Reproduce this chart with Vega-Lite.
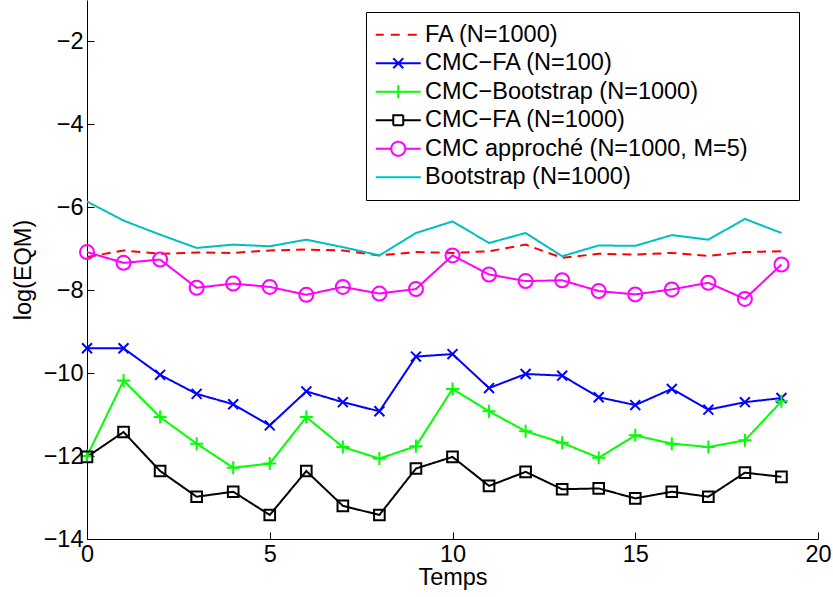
{
  "$schema": "https://vega.github.io/schema/vega-lite/v6.json",
  "width": 731,
  "height": 539,
  "autosize": {"type": "none"},
  "padding": {"left": 87, "top": 0, "right": 15, "bottom": 58},
  "background": "white",
  "config": {
    "view": {"stroke": null},
    "font": "Liberation Sans",
    "axis": {
      "domainColor": "black", "tickColor": "black", "labelColor": "black", "titleColor": "black",
      "labelFont": "Liberation Sans", "titleFont": "Liberation Sans",
      "labelFontSize": 23.5, "titleFontSize": 23.5, "titleFontWeight": "normal",
      "grid": false, "tickSize": -7, "domainWidth": 1, "tickWidth": 1
    }
  },
  "data": {"values": [
    {"t":0,"s":"FA (N=1000)","v":-7.20},{"t":1,"s":"FA (N=1000)","v":-7.04},{"t":2,"s":"FA (N=1000)","v":-7.12},{"t":3,"s":"FA (N=1000)","v":-7.09},{"t":4,"s":"FA (N=1000)","v":-7.10},{"t":5,"s":"FA (N=1000)","v":-7.04},{"t":6,"s":"FA (N=1000)","v":-7.02},{"t":7,"s":"FA (N=1000)","v":-7.04},{"t":8,"s":"FA (N=1000)","v":-7.16},{"t":9,"s":"FA (N=1000)","v":-7.08},{"t":10,"s":"FA (N=1000)","v":-7.10},{"t":11,"s":"FA (N=1000)","v":-7.06},{"t":12,"s":"FA (N=1000)","v":-6.90},{"t":13,"s":"FA (N=1000)","v":-7.22},{"t":14,"s":"FA (N=1000)","v":-7.12},{"t":15,"s":"FA (N=1000)","v":-7.14},{"t":16,"s":"FA (N=1000)","v":-7.10},{"t":17,"s":"FA (N=1000)","v":-7.17},{"t":18,"s":"FA (N=1000)","v":-7.08},{"t":19,"s":"FA (N=1000)","v":-7.06},
    {"t":0,"s":"CMC−FA (N=100)","v":-9.40},{"t":1,"s":"CMC−FA (N=100)","v":-9.40},{"t":2,"s":"CMC−FA (N=100)","v":-10.04},{"t":3,"s":"CMC−FA (N=100)","v":-10.50},{"t":4,"s":"CMC−FA (N=100)","v":-10.75},{"t":5,"s":"CMC−FA (N=100)","v":-11.26},{"t":6,"s":"CMC−FA (N=100)","v":-10.44},{"t":7,"s":"CMC−FA (N=100)","v":-10.70},{"t":8,"s":"CMC−FA (N=100)","v":-10.92},{"t":9,"s":"CMC−FA (N=100)","v":-9.60},{"t":10,"s":"CMC−FA (N=100)","v":-9.54},{"t":11,"s":"CMC−FA (N=100)","v":-10.36},{"t":12,"s":"CMC−FA (N=100)","v":-10.02},{"t":13,"s":"CMC−FA (N=100)","v":-10.06},{"t":14,"s":"CMC−FA (N=100)","v":-10.58},{"t":15,"s":"CMC−FA (N=100)","v":-10.77},{"t":16,"s":"CMC−FA (N=100)","v":-10.38},{"t":17,"s":"CMC−FA (N=100)","v":-10.88},{"t":18,"s":"CMC−FA (N=100)","v":-10.70},{"t":19,"s":"CMC−FA (N=100)","v":-10.60},
    {"t":0,"s":"CMC−Bootstrap (N=1000)","v":-12.00},{"t":1,"s":"CMC−Bootstrap (N=1000)","v":-10.18},{"t":2,"s":"CMC−Bootstrap (N=1000)","v":-11.06},{"t":3,"s":"CMC−Bootstrap (N=1000)","v":-11.70},{"t":4,"s":"CMC−Bootstrap (N=1000)","v":-12.28},{"t":5,"s":"CMC−Bootstrap (N=1000)","v":-12.18},{"t":6,"s":"CMC−Bootstrap (N=1000)","v":-11.06},{"t":7,"s":"CMC−Bootstrap (N=1000)","v":-11.78},{"t":8,"s":"CMC−Bootstrap (N=1000)","v":-12.06},{"t":9,"s":"CMC−Bootstrap (N=1000)","v":-11.76},{"t":10,"s":"CMC−Bootstrap (N=1000)","v":-10.38},{"t":11,"s":"CMC−Bootstrap (N=1000)","v":-10.92},{"t":12,"s":"CMC−Bootstrap (N=1000)","v":-11.40},{"t":13,"s":"CMC−Bootstrap (N=1000)","v":-11.68},{"t":14,"s":"CMC−Bootstrap (N=1000)","v":-12.04},{"t":15,"s":"CMC−Bootstrap (N=1000)","v":-11.50},{"t":16,"s":"CMC−Bootstrap (N=1000)","v":-11.70},{"t":17,"s":"CMC−Bootstrap (N=1000)","v":-11.78},{"t":18,"s":"CMC−Bootstrap (N=1000)","v":-11.62},{"t":19,"s":"CMC−Bootstrap (N=1000)","v":-10.68},
    {"t":0,"s":"CMC−FA (N=1000)","v":-12.02},{"t":1,"s":"CMC−FA (N=1000)","v":-11.42},{"t":2,"s":"CMC−FA (N=1000)","v":-12.36},{"t":3,"s":"CMC−FA (N=1000)","v":-12.98},{"t":4,"s":"CMC−FA (N=1000)","v":-12.86},{"t":5,"s":"CMC−FA (N=1000)","v":-13.42},{"t":6,"s":"CMC−FA (N=1000)","v":-12.36},{"t":7,"s":"CMC−FA (N=1000)","v":-13.20},{"t":8,"s":"CMC−FA (N=1000)","v":-13.42},{"t":9,"s":"CMC−FA (N=1000)","v":-12.30},{"t":10,"s":"CMC−FA (N=1000)","v":-12.02},{"t":11,"s":"CMC−FA (N=1000)","v":-12.72},{"t":12,"s":"CMC−FA (N=1000)","v":-12.38},{"t":13,"s":"CMC−FA (N=1000)","v":-12.80},{"t":14,"s":"CMC−FA (N=1000)","v":-12.78},{"t":15,"s":"CMC−FA (N=1000)","v":-13.02},{"t":16,"s":"CMC−FA (N=1000)","v":-12.86},{"t":17,"s":"CMC−FA (N=1000)","v":-12.98},{"t":18,"s":"CMC−FA (N=1000)","v":-12.40},{"t":19,"s":"CMC−FA (N=1000)","v":-12.50},
    {"t":0,"s":"CMC approché (N=1000, M=5)","v":-7.08},{"t":1,"s":"CMC approché (N=1000, M=5)","v":-7.34},{"t":2,"s":"CMC approché (N=1000, M=5)","v":-7.26},{"t":3,"s":"CMC approché (N=1000, M=5)","v":-7.94},{"t":4,"s":"CMC approché (N=1000, M=5)","v":-7.84},{"t":5,"s":"CMC approché (N=1000, M=5)","v":-7.92},{"t":6,"s":"CMC approché (N=1000, M=5)","v":-8.11},{"t":7,"s":"CMC approché (N=1000, M=5)","v":-7.92},{"t":8,"s":"CMC approché (N=1000, M=5)","v":-8.08},{"t":9,"s":"CMC approché (N=1000, M=5)","v":-7.97},{"t":10,"s":"CMC approché (N=1000, M=5)","v":-7.16},{"t":11,"s":"CMC approché (N=1000, M=5)","v":-7.62},{"t":12,"s":"CMC approché (N=1000, M=5)","v":-7.78},{"t":13,"s":"CMC approché (N=1000, M=5)","v":-7.76},{"t":14,"s":"CMC approché (N=1000, M=5)","v":-8.02},{"t":15,"s":"CMC approché (N=1000, M=5)","v":-8.10},{"t":16,"s":"CMC approché (N=1000, M=5)","v":-7.98},{"t":17,"s":"CMC approché (N=1000, M=5)","v":-7.82},{"t":18,"s":"CMC approché (N=1000, M=5)","v":-8.21},{"t":19,"s":"CMC approché (N=1000, M=5)","v":-7.38},
    {"t":0,"s":"Bootstrap (N=1000)","v":-5.86},{"t":1,"s":"Bootstrap (N=1000)","v":-6.32},{"t":2,"s":"Bootstrap (N=1000)","v":-6.66},{"t":3,"s":"Bootstrap (N=1000)","v":-6.98},{"t":4,"s":"Bootstrap (N=1000)","v":-6.90},{"t":5,"s":"Bootstrap (N=1000)","v":-6.94},{"t":6,"s":"Bootstrap (N=1000)","v":-6.78},{"t":7,"s":"Bootstrap (N=1000)","v":-6.96},{"t":8,"s":"Bootstrap (N=1000)","v":-7.16},{"t":9,"s":"Bootstrap (N=1000)","v":-6.62},{"t":10,"s":"Bootstrap (N=1000)","v":-6.34},{"t":11,"s":"Bootstrap (N=1000)","v":-6.86},{"t":12,"s":"Bootstrap (N=1000)","v":-6.62},{"t":13,"s":"Bootstrap (N=1000)","v":-7.18},{"t":14,"s":"Bootstrap (N=1000)","v":-6.92},{"t":15,"s":"Bootstrap (N=1000)","v":-6.93},{"t":16,"s":"Bootstrap (N=1000)","v":-6.67},{"t":17,"s":"Bootstrap (N=1000)","v":-6.78},{"t":18,"s":"Bootstrap (N=1000)","v":-6.28},{"t":19,"s":"Bootstrap (N=1000)","v":-6.62}
  ]},
  "encoding": {
    "x": {"field": "t", "type": "quantitative",
      "scale": {"domain": [0, 20], "nice": false, "zero": false},
      "axis": {"values": [0, 5, 10, 15, 20], "title": "Temps", "labelPadding": 10, "titlePadding": 0, "labelFlush": false}},
    "y": {"field": "v", "type": "quantitative",
      "scale": {"domain": [-14, -1], "nice": false, "zero": false},
      "axis": {"values": [-14, -12, -10, -8, -6, -4, -2], "title": "log(EQM)", "labelPadding": 11, "titlePadding": 8}},
    "color": {"field": "s", "type": "nominal",
      "scale": {
        "domain": ["FA (N=1000)", "CMC−FA (N=100)", "CMC−Bootstrap (N=1000)", "CMC−FA (N=1000)", "CMC approché (N=1000, M=5)", "Bootstrap (N=1000)"],
        "range": ["#ff0000", "#0000ff", "#00ff00", "#000000", "#ff00ff", "#00bfbf"]
      }}
  },
  "layer": [
    {
      "mark": {"type": "line", "strokeWidth": 2},
      "encoding": {
        "strokeDash": {"field": "s", "type": "nominal", "legend": null,
          "scale": {
            "domain": ["FA (N=1000)", "CMC−FA (N=100)", "CMC−Bootstrap (N=1000)", "CMC−FA (N=1000)", "CMC approché (N=1000, M=5)", "Bootstrap (N=1000)"],
            "range": [[9, 6], [1, 0], [1, 0], [1, 0], [1, 0], [1, 0]]
          }},
        "color": {"field": "s", "type": "nominal",
          "legend": {
            "orient": "none", "legendX": 279, "legendY": 12,
            "title": "\u2800", "titleOrient": "right", "titlePadding": 33, "titleFontSize": 10, "titleColor": "white",
            "symbolSize": 400, "symbolStrokeWidth": 2, "symbolOffset": 9.5, "labelOffset": 15,
            "padding": 11, "rowPadding": 3.5,
            "labelFont": "Liberation Sans", "labelFontSize": 23.5, "labelColor": "black", "labelLimit": 0,
            "strokeColor": "black", "fillColor": "white",
            "encode": {
              "symbols": {"update": {
              "fill": {"value": "transparent"},
              "shape": {"signal": "datum.value === 'FA (N=1000)' ? 'M-2.25,0H-1.45M-0.75,0H0.15M0.95,0H1.85' : datum.value === 'CMC−FA (N=100)' ? 'M-2.25,0H2.25M-0.5,-0.5L0.5,0.5M-0.5,0.5L0.5,-0.5' : datum.value === 'CMC−Bootstrap (N=1000)' ? 'M-2.25,0H2.25M0,-0.65V0.65' : datum.value === 'CMC−FA (N=1000)' ? 'M-2.25,0H-0.5M0.5,0H2.25M-0.5,-0.5H0.5V0.5H-0.5Z' : datum.value === 'CMC approché (N=1000, M=5)' ? 'M-2.25,0H-0.7M0.7,0H2.25M0.7,0A0.7,0.7 0 1,1 -0.7,0A0.7,0.7 0 1,1 0.7,0' : 'M-2.25,0H2.25'"}
            }}}
          }}
      }
    },
    {
      "transform": [{"filter": {"field": "s", "oneOf": ["CMC−FA (N=100)", "CMC−Bootstrap (N=1000)", "CMC−FA (N=1000)", "CMC approché (N=1000, M=5)"]}}],
      "mark": {"type": "point", "filled": false, "strokeWidth": 2, "size": 196, "opacity": 1},
      "encoding": {
        "shape": {"field": "s", "type": "nominal", "legend": null,
          "scale": {
            "domain": ["CMC−FA (N=100)", "CMC−Bootstrap (N=1000)", "CMC−FA (N=1000)", "CMC approché (N=1000, M=5)"],
            "range": ["M-0.71,-0.71L0.71,0.71M-0.71,0.71L0.71,-0.71", "M-0.93,0H0.93M0,-0.93V0.93", "M-0.76,-0.76H0.76V0.76H-0.76Z", "circle"]
          }},
        "color": {"field": "s", "type": "nominal", "legend": null}
      }
    }
  ]
}
